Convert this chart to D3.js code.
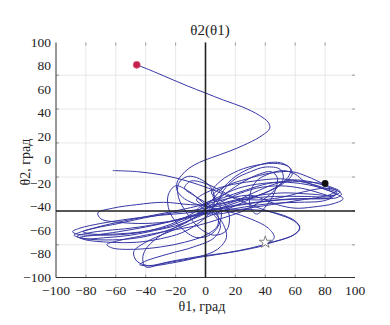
<!DOCTYPE html>
<html>
<head>
<meta charset="utf-8">
<script src="https://cdn.jsdelivr.net/npm/d3@7"></script>
<style>
  body { margin: 0; background: #fff; }
</style>
</head>
<body>
<svg id="chart" width="390" height="325"></svg>
<script>
const FONT = "'Liberation Serif', 'Times New Roman', 'DejaVu Serif', serif";

// tick labels (degrees)
const xTicks = [-100, -80, -60, -40, -20, 0, 20, 40, 60, 80, 100];
const yTicks = [-100, -80, -60, -40, -20, 0, 20, 40, 60, 80, 100];
// grid lines as they appear in the figure (y grid does not follow the labels)
const xGrid = [-80, -60, -40, -20, 0, 20, 40, 60, 80];
const yGrid = [-72.2, -43.4, -14.5, 14.5, 43.4, 72.2];
const refLineY = -43.4;

const startPoint = [-46, 81];
const endPoint = [80, -20];
const starPoint = [40, -70];

// trajectory θ1, θ2
const trajectory = [
  [-46,81],[-38,77],[-25,70],[-12,63],[0,57],[12,51],[25,45],[36,38],[42,32],[43,27],[38,21],[28,14],[15,7],[4,2],[-4,-2],[-11,-7],[-16,-13],[-19,-19],[-19,-26],[-14,-33],[-5,-38],[5,-40],
  [18,-36],[32,-28],[45,-21],[58,-17],[72,-19],[84,-24],[91,-29],[88,-32],[75,-33],[58,-33],[40,-35],[22,-38],[5,-42],
  [-12,-45],[-30,-47],[-50,-50],[-70,-54],[-84,-58],[-89,-61],[-86,-63],[-72,-64],[-52,-63],[-34,-59],[-20,-53],[-8,-45],[2,-37],
  [10,-26],[20,-14],[32,-6],[44,-2],[52,-3],[57,-8],[55,-15],[46,-24],[32,-32],[18,-40],[4,-47],[-10,-54],
  [-26,-62],[-40,-70],[-48,-78],[-46,-86],[-38,-90],[-24,-88],[-6,-83],[8,-76],[14,-66],[12,-55],[6,-45],[-2,-36],
  [-12,-26],[-20,-22],[-25,-30],[-24,-44],[-16,-58],[-6,-66],[4,-63],[10,-52],[10,-40],[5,-30],
  [14,-22],[28,-16],[44,-11],[58,-10],[68,-14],[80,-21],[90,-27],[86,-30],[70,-29],[52,-28],[36,-30],[20,-34],[6,-38],
  [-10,-38],[-28,-36],[-46,-38],[-62,-41],[-72,-45],[-70,-50],[-58,-53],[-40,-54],[-22,-52],[-8,-48],[4,-42],
  [20,-42],[38,-43],[52,-47],[61,-53],[63,-59],[57,-65],[45,-70],[30,-75],[14,-79],[-4,-82],[-22,-86],[-38,-90],
  [-44,-89],[-40,-86],[-25,-80],[-8,-74],[6,-66],[10,-56],[5,-46],[-3,-40],
  [8,-32],[22,-24],[38,-20],[55,-19],[72,-22],[86,-28],[92,-33],[86,-37],[72,-40],[60,-41],[48,-38],[38,-33],[30,-30],[18,-32],[5,-36],
  [-15,-42],[-35,-47],[-55,-52],[-72,-57],[-85,-62],[-88,-64],[-80,-67],[-62,-68],[-44,-66],[-28,-61],[-14,-54],[-4,-46],[4,-38],
  [14,-28],[26,-18],[36,-12],[44,-10],[48,-15],[46,-28],[40,-40],[34,-46],[30,-40],[30,-28],[34,-18],[42,-12],[52,-9],[60,-12],[66,-18],[78,-24],[87,-29],[84,-32],[68,-33],[50,-34],[30,-37],[12,-41],
  [-6,-46],[-22,-52],[-40,-57],[-58,-61],[-74,-64],[-84,-66],[-80,-68],[-64,-70],[-46,-70],[-30,-67],[-16,-62],[-6,-55],[2,-46],
  [6,-36],[4,-24],[-4,-16],[-12,-14],[-18,-20],[-18,-32],[-12,-46],[-4,-58],[6,-64],[14,-60],[16,-48],[12,-36],[4,-28],
  [10,-18],[22,-9],[36,-4],[48,-3],[56,-6],[58,-12],[52,-20],[40,-28],[26,-34],[12,-40],[-2,-46],
  [-18,-56],[-32,-66],[-40,-76],[-42,-84],[-40,-91],[-28,-88],[-10,-84],[10,-80],[28,-76],[40,-72],[46,-66],[42,-58],[30,-50],[16,-44],[2,-40],
  [-6,-34],[0,-28],[14,-22],[32,-18],[50,-16],[66,-19],[80,-24],[88,-28],[84,-31],[66,-31],[46,-31],[28,-33],[12,-37],
  [-4,-42],[-22,-45],[-40,-49],[-58,-54],[-74,-58],[-82,-61],[-76,-63],[-60,-63],[-42,-61],[-26,-57],[-12,-50],[0,-42],
  [10,-36],[20,-30],[34,-24],[50,-22],[64,-24],[76,-28],[84,-32],[78,-35],[62,-36],[44,-37],[26,-40],[8,-44],
  [-10,-48],[-30,-54],[-50,-58],[-66,-60],[-78,-62],[-86,-65],[-82,-67],[-66,-66],[-50,-64],[-34,-60],[-20,-56],[-8,-50],[2,-44],
  [8,-36],[12,-26],[20,-16],[30,-10],[40,-6],[50,-8],[52,-16],[46,-26],[36,-36],[24,-44],[10,-50],[-6,-56],
  [-24,-60],[-40,-64],[-56,-68],[-66,-72],[-62,-75],[-48,-76],[-30,-74],[-14,-70],[0,-64],[8,-56],[8,-46],[2,-38],
  [-8,-30],[-14,-24],[-10,-18],[0,-20],[10,-26],[20,-32],[34,-34],[50,-32],[66,-27],[80,-24],[88,-26],[82,-30],[64,-34],[44,-38],[24,-42],[8,-46],
  [-6,-44],[-2,-38],[12,-32],[26,-26],[42,-20],[58,-18],[70,-19],[80,-20]
];

// loose piece with a free end at the left
const looseSegment = [
  [-62,-9],[-45,-10],[-28,-13],[-12,-18],[2,-24],[14,-30],[26,-36],[36,-41],[48,-46],[58,-51],[63,-57],[60,-63],[50,-68],[40,-71]
];

const svg = d3.select("#chart");
const x = d3.scaleLinear().domain([-100, 100]).range([56, 355]);
const y = d3.scaleLinear().domain([-100, 100]).range([277.5, 42.5]);

// grid
svg.append("g").selectAll("line").data(xGrid).join("line")
  .attr("x1", d => x(d)).attr("x2", d => x(d))
  .attr("y1", y(100)).attr("y2", y(-100))
  .attr("stroke", "#e2e2e2").attr("stroke-width", 0.8);
svg.append("g").selectAll("line").data(yGrid).join("line")
  .attr("x1", x(-100)).attr("x2", x(100))
  .attr("y1", d => y(d)).attr("y2", d => y(d))
  .attr("stroke", "#e2e2e2").attr("stroke-width", 0.8);

// small tick marks (top, bottom, left, right)
const tk = svg.append("g").attr("stroke", "#888").attr("stroke-width", 0.8);
xGrid.forEach(v => {
  tk.append("line").attr("x1", x(v)).attr("x2", x(v)).attr("y1", y(100)).attr("y2", y(100) + 3);
  tk.append("line").attr("x1", x(v)).attr("x2", x(v)).attr("y1", y(-100)).attr("y2", y(-100) - 3);
});
yGrid.forEach(v => {
  tk.append("line").attr("x1", x(-100)).attr("x2", x(-100) + 3).attr("y1", y(v)).attr("y2", y(v));
  tk.append("line").attr("x1", x(100) - 3).attr("x2", x(100)).attr("y1", y(v)).attr("y2", y(v));
});

// axis frame lines (left + bottom)
svg.append("line").attr("x1", x(-100)).attr("x2", x(-100)).attr("y1", y(100)).attr("y2", y(-100))
  .attr("stroke", "#333").attr("stroke-width", 1);
svg.append("line").attr("x1", x(-100)).attr("x2", x(100)).attr("y1", y(-100)).attr("y2", y(-100))
  .attr("stroke", "#333").attr("stroke-width", 1);

// trajectory
const line = d3.line().x(d => x(d[0])).y(d => y(d[1])).curve(d3.curveCatmullRom.alpha(0.5));
svg.append("path").attr("d", line(trajectory))
  .attr("fill", "none").attr("stroke", "#3636a4").attr("stroke-width", 1);
svg.append("path").attr("d", line(looseSegment))
  .attr("fill", "none").attr("stroke", "#3636a4").attr("stroke-width", 1);

// reference lines
svg.append("line").attr("x1", x(0)).attr("x2", x(0)).attr("y1", y(100)).attr("y2", y(-100))
  .attr("stroke", "#222").attr("stroke-width", 1.6);
svg.append("line").attr("x1", x(-100)).attr("x2", x(100)).attr("y1", y(refLineY)).attr("y2", y(refLineY))
  .attr("stroke", "#222").attr("stroke-width", 1.6);

// markers
svg.append("circle").attr("cx", x(startPoint[0])).attr("cy", y(startPoint[1])).attr("r", 3.6)
  .attr("fill", "#c4204e").attr("stroke", "#e07090").attr("stroke-width", 0.6);
svg.append("circle").attr("cx", x(endPoint[0])).attr("cy", y(endPoint[1])).attr("r", 3.4)
  .attr("fill", "#111");
svg.append("path").attr("d", d3.symbol().type(d3.symbolStar).size(45)())
  .attr("transform", `translate(${x(starPoint[0])},${y(starPoint[1])})`)
  .attr("fill", "#fff").attr("stroke", "#666").attr("stroke-width", 0.8);

// tick labels
const fmt = v => (v < 0 ? "\u2212" + Math.abs(v) : String(v));
svg.append("g").selectAll("text").data(xTicks).join("text")
  .attr("x", d => x(d)).attr("y", 295)
  .attr("text-anchor", "middle").attr("font-family", FONT).attr("font-size", 13.5).attr("fill", "#222")
  .text(fmt);
svg.append("g").selectAll("text").data(yTicks).join("text")
  .attr("x", 51).attr("y", d => y(d) + 4)
  .attr("text-anchor", "end").attr("font-family", FONT).attr("font-size", 13.5).attr("fill", "#222")
  .text(fmt);

// titles
svg.append("text").attr("x", 210).attr("y", 35).attr("text-anchor", "middle")
  .attr("font-family", FONT).attr("font-size", 15).attr("fill", "#222").text("θ2(θ1)");
svg.append("text").attr("x", 202).attr("y", 311).attr("text-anchor", "middle")
  .attr("font-family", FONT).attr("font-size", 14).attr("fill", "#222").text("θ1, град");
svg.append("text").attr("transform", "translate(30,162) rotate(-90)").attr("text-anchor", "middle")
  .attr("font-family", FONT).attr("font-size", 14).attr("fill", "#222").text("θ2, град");
</script>
</body>
</html>
